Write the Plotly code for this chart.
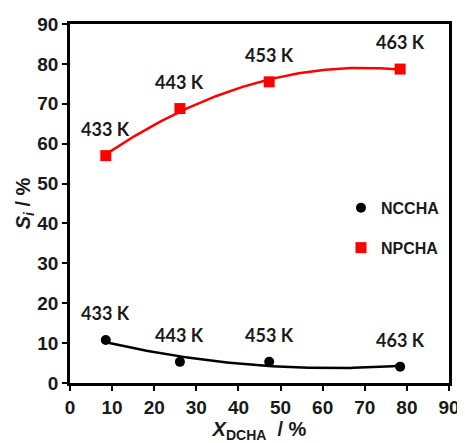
import numpy as np
import plotly.graph_objects as go

# Data
x_dcha = [8.5, 26.1, 47.3, 78.4]
s_ncchA = [10.8, 5.3, 5.3, 4.1]
s_npchA = [57.0, 68.8, 75.5, 78.7]
temps = ["433 K", "443 K", "453 K", "463 K"]
x_ticks = [0, 10, 20, 30, 40, 50, 60, 70, 80, 90]
y_ticks = [0, 10, 20, 30, 40, 50, 60, 70, 80, 90]

# 2nd-order polynomial trendlines fitted to the data (as in the original chart)
xf = np.linspace(min(x_dcha), max(x_dcha), 120)
fit_np = np.polyval(np.polyfit(x_dcha, s_npchA, 2), xf)
fit_nc = np.polyval(np.polyfit(x_dcha, s_ncchA, 2), xf)

fig = go.Figure()

fig.add_trace(go.Scatter(x=xf, y=fit_np, mode="lines", line=dict(color="#ff0000", width=2.5),
                         showlegend=False, hoverinfo="skip"))
fig.add_trace(go.Scatter(x=xf, y=fit_nc, mode="lines", line=dict(color="#000000", width=2.5),
                         showlegend=False, hoverinfo="skip"))

fig.add_trace(go.Scatter(x=x_dcha, y=s_ncchA, mode="markers", name="NCCHA",
                         marker=dict(symbol="circle", size=10, color="#000000"), legendgroup="a"))
fig.add_trace(go.Scatter(x=x_dcha, y=s_npchA, mode="markers", name="NPCHA",
                         marker=dict(symbol="square", size=11, color="#ff0000"), legendgroup="b"))

label_font = dict(family="Lato, Open Sans, sans-serif", size=18, color="#1a1a1a")
for xv, yv, t in zip(x_dcha, s_npchA, temps):
    fig.add_annotation(x=xv, y=yv, text="<b>" + t + "</b>", showarrow=False, yshift=27, font=label_font)
for xv, yv, t in zip(x_dcha, s_ncchA, temps):
    fig.add_annotation(x=xv, y=yv, text="<b>" + t + "</b>", showarrow=False, yshift=27, font=label_font)

axis_common = dict(
    showline=True, linecolor="#000000", linewidth=2.5, mirror=True,
    ticks="outside", ticklen=5, tickwidth=2, tickcolor="#000000",
    showgrid=False, zeroline=False, automargin=False,
    tickfont=dict(family="Liberation Sans, Arial, sans-serif", size=19, color="#1a1a1a", weight="bold"),
)

fig.update_xaxes(range=[0, 90], tickvals=x_ticks, ticktext=[str(v) for v in x_ticks],
                 title=dict(text="<b><i>X</i><sub>DCHA</sub>  / %</b>", standoff=12,
                            font=dict(family="Liberation Sans, Arial, sans-serif", size=20, color="#1a1a1a")),
                 **axis_common)
fig.update_yaxes(range=[0, 90], tickvals=y_ticks, ticktext=[str(v) for v in y_ticks],
                 title=dict(text="<b><i>S</i><sub><i>i</i></sub> / %</b>", standoff=2,
                            font=dict(family="Liberation Sans, Arial, sans-serif", size=20, color="#1a1a1a")),
                 **axis_common)

fig.update_layout(
    width=457, height=435,
    margin=dict(l=62, r=16, t=16, b=60),
    plot_bgcolor="white", paper_bgcolor="white",
    legend=dict(x=0.715, y=0.535, xanchor="left", yanchor="top", bgcolor="rgba(0,0,0,0)",
                tracegroupgap=16, itemwidth=30,
                font=dict(family="Liberation Sans, Arial, sans-serif", size=16, color="#1a1a1a", weight="bold")),
)

fig.write_html("out.html")
